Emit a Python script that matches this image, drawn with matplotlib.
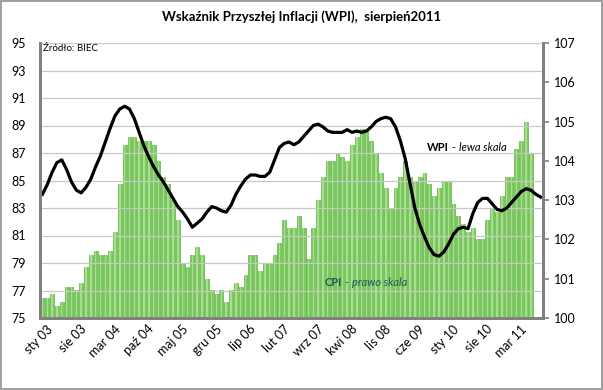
import numpy as np
import matplotlib
matplotlib.use('Agg')
import matplotlib.pyplot as plt
import matplotlib.transforms as mtransforms

plt.rcParams['font.family'] = ['Lato', 'DejaVu Sans']

# WPI, lewa skala (sty 03 - sie 11)
wpi = [84.0, 84.7, 85.6, 86.3, 86.5, 85.8, 84.9, 84.3, 84.1, 84.5, 85.1, 86.0,
       86.8, 87.8, 88.8, 89.7, 90.2, 90.4, 90.2, 89.5, 88.5, 87.5, 86.7, 86.0,
       85.4, 84.9, 84.3, 83.7, 83.1, 82.7, 82.2, 81.6, 81.9, 82.2, 82.7, 83.1,
       83.0, 82.8, 82.7, 83.2, 84.0, 84.6, 85.1, 85.4, 85.4, 85.3, 85.3, 85.6,
       86.5, 87.4, 87.7, 87.8, 87.6, 87.8, 88.2, 88.6, 89.0, 89.1, 88.9, 88.6,
       88.5, 88.5, 88.5, 88.7, 88.5, 88.6, 88.5, 88.6, 88.9, 89.3, 89.5, 89.6,
       89.5, 88.9, 87.9, 86.6, 84.8, 83.0, 81.8, 80.9, 80.1, 79.6, 79.5, 79.8,
       80.4, 81.1, 81.5, 81.6, 81.5, 82.6, 83.4, 83.7, 83.7, 83.3, 82.9, 82.8,
       83.0, 83.4, 83.8, 84.2, 84.4, 84.3, 84.0, 83.8]

# CPI, prawa skala (sty 03 - cze 11)
cpi = [100.5, 100.5, 100.6, 100.3, 100.4, 100.8, 100.8, 100.7, 100.9, 101.3, 101.6, 101.7,
       101.6, 101.6, 101.7, 102.2, 103.4, 104.4, 104.6, 104.6, 104.5, 104.5, 104.5, 104.4,
       104.0, 103.6, 103.4, 103.0, 102.5, 101.4, 101.3, 101.6, 101.8, 101.6, 101.0, 100.7,
       100.6, 100.7, 100.4, 100.7, 100.9, 100.8, 101.1, 101.6, 101.6, 101.2, 101.4, 101.4,
       101.6, 101.9, 102.5, 102.3, 102.3, 102.6, 102.3, 101.5, 102.3, 103.0, 103.6, 104.0,
       104.0, 104.2, 104.1, 104.0, 104.4, 104.6, 104.8, 104.8, 104.5, 104.2, 103.7, 103.3,
       102.8, 103.3, 103.6, 104.0, 103.6, 103.5, 103.6, 103.7, 103.4, 103.1, 103.3, 103.5,
       103.5, 102.9, 102.6, 102.4, 102.2, 102.3, 102.0, 102.0, 102.5, 102.8, 102.7, 103.1,
       103.6, 103.6, 104.3, 104.5, 105.0, 104.2]

tick_labels = ['sty 03', 'sie 03', 'mar 04', 'paź 04', 'maj 05', 'gru 05', 'lip 06',
               'lut 07', 'wrz 07', 'kwi 08', 'lis 08', 'cze 09', 'sty 10', 'sie 10', 'mar 11']

x_wpi = np.arange(len(wpi))
x_cpi = np.arange(len(cpi))
x_ticks = np.arange(0, len(wpi), 7)

fig = plt.figure(figsize=(6.03, 3.9), dpi=100)
fig.patch.set_edgecolor('#a0a0a0')
fig.patch.set_linewidth(1.5)
ax = fig.add_axes([40/603, 1-318/390, 503/603, 275/390])
ax2 = ax.twinx()
ax.set_zorder(ax2.get_zorder() + 1)
ax.patch.set_visible(False)

# slupki CPI
ax2.bar(x_cpi, [v - 100 for v in cpi], bottom=100, width=0.8,
        color='#7fcb62', edgecolor='#5db544', linewidth=0.5)
ax2.bar(x_cpi, [v - 100 for v in cpi], bottom=100, width=0.3,
        color='#a9de8e', linewidth=0)
ax2.set_ylim(100, 107)
ax2.set_yticks(range(100, 108))
ax2.tick_params(axis='y', labelsize=9, length=4, color='#808080', width=1.2, pad=4)

# linia WPI
ax.plot(x_wpi, wpi, color='black', lw=2.3, solid_joinstyle='round')
ax.set_ylim(75, 95)
ax.set_yticks(range(75, 96, 2))
ax.set_xlim(-0.5, 103.5)
ax.grid(axis='y', color='#c8c8c8', lw=0.9)
ax.tick_params(axis='y', labelsize=9, length=0, pad=10)
ax.set_xticks(x_ticks)
ax.set_xticklabels([])
ax.tick_params(axis='x', length=0)

# opisy osi X pod katem 45 stopni
trans = mtransforms.blended_transform_factory(ax.transData, ax.transAxes)
trans = trans + mtransforms.ScaledTranslation(4/100, -5/100, fig.dpi_scale_trans)
for xt, lab in zip(x_ticks, tick_labels):
    t = ax.text(xt, 0, lab, transform=trans, ha='right', va='top', fontsize=9)
    t.set_rotation(45.0)
    t.set_rotation_mode('anchor')

for a in (ax, ax2):
    a.spines['top'].set_visible(False)
    for s in ('left', 'right', 'bottom'):
        a.spines[s].set_color('#808080')
        a.spines[s].set_linewidth(2)

fig.text(0.5, 1-17/390, 'Wskaźnik Przyszłej Inflacji (WPI),  sierpień2011',
         ha='center', va='center', fontsize=9.5, fontweight='bold')
ax.text(0.005, 0.995, 'Źródło: BIEC', transform=ax.transAxes, fontsize=7, va='top', ha='left')


def label_parts(x, y, parts, color):
    # tekst z kilku kawalkow (pogrubiony / zwykly / kursywa) jeden za drugim
    fig.canvas.draw()
    r = fig.canvas.get_renderer()
    px, py = ax.transData.transform((x, y))
    for txt, kw in parts:
        t = fig.text(px / fig.dpi / 6.03, py / fig.dpi / 3.9, txt, fontsize=8,
                     color=color, ha='left', va='center', **kw)
        px += t.get_window_extent(r).width


label_parts(79.5, 87.4, [('WPI', {'fontweight': 'bold'}), (' - ', {}),
                         ('lewa skala', {'style': 'italic'})], 'black')
label_parts(58.4, 77.6, [('CPI', {'fontweight': 'bold'}), (' - ', {}),
                         ('prawo skala', {'style': 'italic'})], '#1f5a5a')

fig.savefig('out.png', dpi=100)
